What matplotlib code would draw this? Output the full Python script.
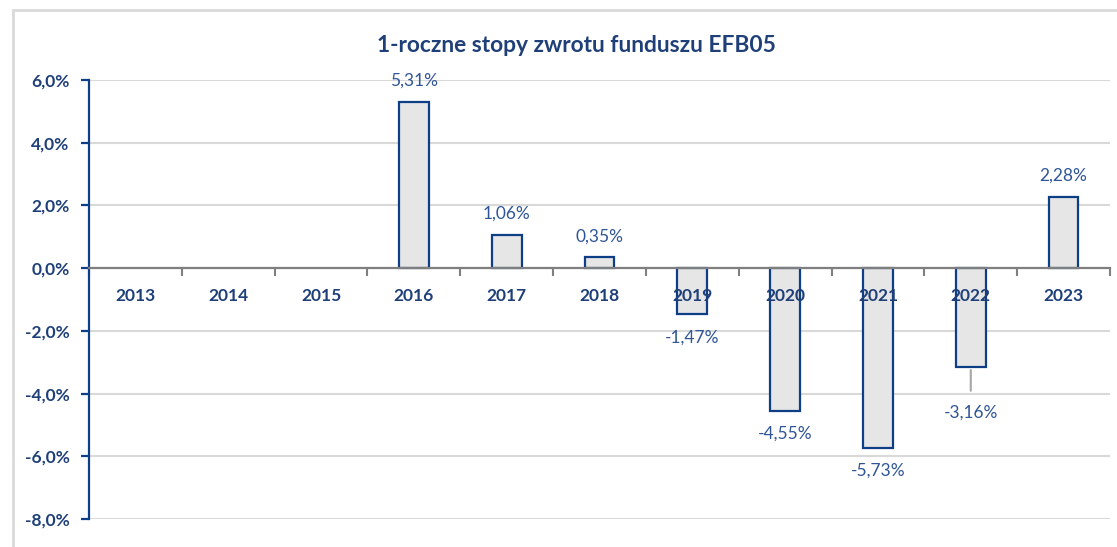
import matplotlib.pyplot as plt
from matplotlib.patches import Rectangle
from matplotlib.ticker import FuncFormatter, FixedLocator
import numpy as np

years = ['2013', '2014', '2015', '2016', '2017', '2018', '2019', '2020', '2021', '2022', '2023']
returns = [np.nan, np.nan, np.nan, 5.31, 1.06, 0.35, -1.47, -4.55, -5.73, -3.16, 2.28]
yticks = [6, 4, 2, 0, -2, -4, -6, -8]

plt.rcParams['font.family'] = ['Lato', 'DejaVu Sans']
navy = '#1f3f78'
label_col = '#2f5597'
edge_col = '#0e3f86'

fig = plt.figure(figsize=(11.17, 5.47), dpi=100)
# light grey frame around the chart
fig.patches.append(Rectangle((13 / 1117, -0.1), 1.2, 1 - 10 / 547 + 0.1,
                             transform=fig.transFigure, fill=False,
                             edgecolor='#d9d9d9', linewidth=2))

ax = fig.add_axes([89 / 1117, 1 - 519 / 547, (1110 - 89) / 1117, (519 - 80) / 547])
x = np.arange(len(years))
ax.bar(x, returns, width=0.32, color='#e6e6e6', edgecolor=edge_col, linewidth=1.6, zorder=3)

ax.set_xlim(-0.5, len(years) - 0.5)
ax.set_ylim(-8, 6)
ax.set_yticks(yticks)
ax.yaxis.set_major_formatter(FuncFormatter(lambda v, p: f'{v:.1f}%'.replace('.', ',')))
ax.grid(axis='y', color='#d9d9d9', linewidth=1.5, zorder=0)
ax.set_axisbelow(True)

for s in ['top', 'right']:
    ax.spines[s].set_visible(False)
ax.spines['left'].set_color(edge_col)
ax.spines['left'].set_linewidth(1.6)
ax.spines['bottom'].set_position(('data', 0))
ax.spines['bottom'].set_color('#7f7f7f')
ax.spines['bottom'].set_linewidth(1.6)
ax.spines['bottom'].set_zorder(4)

ax.tick_params(axis='y', colors=edge_col, length=6, width=1.6, labelsize=12.5, pad=8)
for t in ax.get_yticklabels():
    t.set_color(navy)
    t.set_fontweight('bold')

# category labels drawn as text so they sit on top of the bars
ax.set_xticks(x)
ax.set_xticklabels([])
ax.tick_params(axis='x', which='major', length=0)
ax.xaxis.set_minor_locator(FixedLocator(np.arange(-0.5, len(years), 1.0)))
ax.tick_params(axis='x', which='minor', length=6, width=1.5, color='#7f7f7f')
for xi, yr in zip(x, years):
    ax.annotate(yr, xy=(xi, 0), xytext=(0, -20), textcoords='offset points',
                ha='center', va='center', fontsize=12.5, fontweight='bold',
                color=navy, zorder=6)

for xi, v in zip(x, returns):
    if np.isnan(v):
        continue
    txt = f'{v:.2f}%'.replace('.', ',')
    if years[xi] == '2022':
        ax.annotate('', xy=(xi, v), xytext=(xi, -4.0),
                    arrowprops=dict(arrowstyle='-', color='#a6a6a6', lw=1.5), zorder=2)
        ax.annotate(txt, xy=(xi, v), xytext=(0, -33), textcoords='offset points',
                    ha='center', va='center', fontsize=12.5, color=label_col)
    elif v >= 0:
        ax.annotate(txt, xy=(xi, v), xytext=(0, 15), textcoords='offset points',
                    ha='center', va='center', fontsize=12.5, color=label_col)
    else:
        ax.annotate(txt, xy=(xi, v), xytext=(0, -16.5), textcoords='offset points',
                    ha='center', va='center', fontsize=12.5, color=label_col)

fig.text(576 / 1117, 1 - 45 / 547, '1-roczne stopy zwrotu funduszu EFB05', ha='center', va='center',
         fontsize=16.4, fontweight='bold', color=navy)

fig.savefig('out.png', dpi=100)
